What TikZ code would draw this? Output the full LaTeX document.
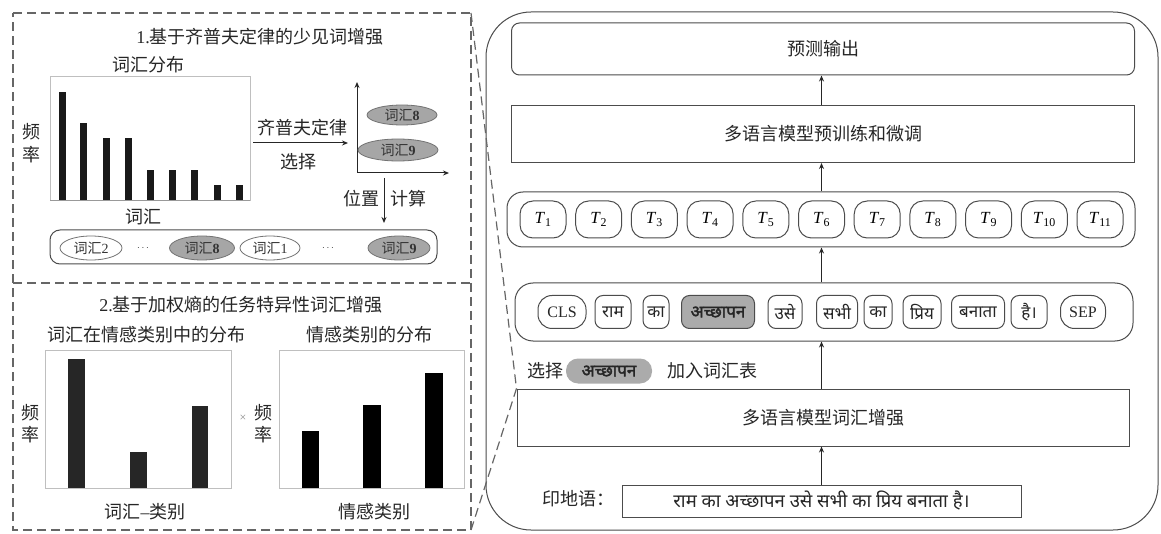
\documentclass[tikz,border=0pt]{standalone}
\usepackage{fontspec}
\setmainfont{Liberation Serif}
\newfontfamily\cjk{Noto Sans CJK SC}
\newfontfamily\hindi[Script=Devanagari]{Noto Sans}
\newfontfamily\hindiB[Script=Devanagari,FakeBold=2]{Noto Sans}
\usetikzlibrary{arrows.meta,shapes.geometric}
\newcommand{\zhf}{\cjk\fontsize{18}{20}\selectfont}
\newcommand{\zhs}{\cjk\fontsize{14}{16}\selectfont}
\newcommand{\hif}{\hindi\fontsize{17}{19}\selectfont}
\newcommand{\hifb}{\hindiB\fontsize{17}{19}\selectfont}
\newcommand{\hib}{\hindi\fontsize{18.5}{20}\selectfont}
\begin{document}
\begin{tikzpicture}[x=1pt,y=-1pt,
  ln/.style={draw=black!70,line width=1pt},
  thin/.style={draw=black!25,line width=0.8pt},
  dsh/.style={draw=black!60,line width=1.2pt,dash pattern=on 9pt off 5pt},
  arr/.style={draw=black!85,line width=1pt,-{Stealth[length=6pt,width=5pt]}},
  zh/.style={font=\zhf,text=black!85,inner sep=0pt},
  tok/.style={ln,rounded corners=8pt,minimum height=33pt,inner sep=1pt,font=\hif,text=black!85},
  tnode/.style={ln,rounded corners=13pt,minimum width=46pt,minimum height=37pt,inner sep=0pt,font=\fontsize{17}{17}\selectfont},
  ell/.style={ellipse,draw=black!55,line width=0.8pt,minimum height=22pt,inner sep=0pt,font=\zhs,text=black!80},
  gell/.style={ell,fill=black!35},
  bar/.style={fill=black!90}
]
\useasboundingbox (0,0) rectangle (1161,534);
\fill[white] (0,0) rectangle (1161,534);

% ---------------- right panel ----------------
\node[ln,rounded corners=45pt,minimum width=672pt,minimum height=518pt] (outer) at (822,271) {};
\node[ln,rounded corners=8pt,minimum width=623pt,minimum height=52pt,zh] (out) at (823,49) {预测输出};
\node[ln,minimum width=623pt,minimum height=57pt,zh] (ft) at (823,134) {多语言模型预训练和微调};
\node[ln,rounded corners=16pt,minimum width=628pt,minimum height=55pt] (tbox) at (821,219.5) {};
\foreach \i in {1,...,11}
  \node[tnode] (t\i) at ({543+55.7*(\i-1)},219.5) {\textit{T}\textsubscript{\i}};
\node[ln,rounded corners=18pt,minimum width=618pt,minimum height=58pt] (hbox) at (824,312) {};
\node[tok,rounded corners=14pt,minimum width=48pt,font=\rmfamily\fontsize{16}{16}\selectfont] (cls) at (562,312) {CLS};
\node[tok,minimum width=36pt] (ram) at (613,312) {राम};
\node[tok,minimum width=26pt] (kaa) at (656,312) {का};
\node[tok,minimum width=73pt,fill=black!33,font=\hifb] (acch) at (718,312) {अच्छापन};
\node[tok,minimum width=34pt] (use) at (785,312) {उसे};
\node[tok,minimum width=41pt] (sabhi) at (837,312) {सभी};
\node[tok,minimum width=28pt] (kab) at (878,312) {का};
\node[tok,minimum width=38pt] (priy) at (922,312) {प्रिय};
\node[tok,minimum width=53pt] (banata) at (978,312) {बनाता};
\node[tok,minimum width=36pt] (hai) at (1029,312) {है।};
\node[tok,rounded corners=14pt,minimum width=45pt,font=\rmfamily\fontsize{16}{16}\selectfont] (sep) at (1083,312) {SEP};

\node[zh] (sel) at (545,371) {选择};
\node[fill=black!33,rounded corners=12pt,minimum width=86pt,minimum height=25pt,inner sep=0pt,font=\hifb,text=black!85] (pill) at (609,371) {अच्छापन};
\node[zh] (add) at (712,371) {加入词汇表};

\node[ln,minimum width=612pt,minimum height=57pt,zh] (voc) at (823,417.5) {多语言模型词汇增强};
\node[zh] (hin) at (578,499) {印地语：};
\node[ln,minimum width=399pt,minimum height=32pt,font=\hib,text=black!85] (sent) at (821.5,501) {राम का अच्छापन उसे सभी का प्रिय बनाता है।};

\draw[arr] (sent.north) -- (sent.north |- voc.south);
\draw[arr] (sent.north |- voc.north) -- (sent.north |- hbox.south);
\draw[arr] (sent.north |- hbox.north) -- (sent.north |- tbox.south);
\draw[arr] (sent.north |- tbox.north) -- (sent.north |- ft.south);
\draw[arr] (sent.north |- ft.north) -- (sent.north |- out.south);

% ---------------- left panel frame ----------------
\coordinate (ltl) at (13,13);
\coordinate (ltr) at (471,13);
\coordinate (lbr) at (471,530);
\coordinate (lbl) at (13,530);
\draw[dsh] (ltl) -- (ltr) -- (lbr) -- (lbl) -- cycle;
\draw[dsh] (13,283) -- (471,283);
\draw[dsh] (ltr) -- (voc.north west);
\draw[dsh] (lbr) -- (voc.north west);

% ---------------- panel 1 ----------------
\node[zh] (p1t) at (260,37) {{\rmfamily 1.}基于齐普夫定律的少见词增强};
\node[zh] (p1d) at (148,65) {词汇分布};
\draw[thin] (50,76) rectangle (250,200);
\foreach \x/\t in {62/92,83/123,106/138,128/138,150/170,172/170,194/170,217/185,239/185}
  \fill[bar] (\x-3.5,\t) rectangle (\x+3.5,200);
\draw[draw=black!40,line width=0.8pt] (50,200) -- (250,200);
\node[zh] (pin1) at (32,132) {频};
\node[zh] (lv1) at (32,155) {率};
\node[zh] (cx1) at (143,217) {词汇};
\coordinate (za) at (253,143);
\coordinate (zb) at (348,143);
\draw[arr] (za) -- (zb);
\node[zh] (zipf) at (302,128) {齐普夫定律};
\node[zh] (xz) at (298,162) {选择};
\coordinate (org) at (357,173);
\coordinate (yax) at (357,82);
\coordinate (xax) at (449,173);
\draw[arr] (org) -- (yax);
\draw[arr] (org) -- (xax);
\node[gell,minimum width=70pt,minimum height=20pt] (e8) at (402,115) {词汇\textbf{\rmfamily 8}};
\node[gell,minimum width=80pt] (e9) at (398,150) {词汇\textbf{\rmfamily 9}};
\coordinate (da) at (384,178);
\coordinate (db) at (384,223);
\draw[arr] (da) -- (db);
\node[zh] (wz) at (361,199) {位置};
\node[zh] (js) at (408,199) {计算};
\node[ln,rounded corners=10pt,minimum width=387pt,minimum height=34pt] (seq) at (243.5,247) {};
\node[ell,minimum width=62pt,minimum height=24pt] (s2) at (91,248) {词汇{\rmfamily 2}};
\node[inner sep=0pt,text=black!80] (d1) at (143,248) {$\cdots$};
\node[gell,minimum width=65pt,minimum height=24pt] (s8) at (202,248) {词汇\textbf{\rmfamily 8}};
\node[ell,minimum width=60pt,minimum height=24pt] (s1) at (270,248) {词汇{\rmfamily 1}};
\node[inner sep=0pt,text=black!80] (d2) at (328,248) {$\cdots$};
\node[gell,minimum width=62pt,minimum height=24pt] (s9) at (399,248) {词汇\textbf{\rmfamily 9}};

% ---------------- panel 2 ----------------
\node[zh] (p2t) at (241,305) {{\rmfamily 2.}基于加权熵的任务特异性词汇增强};
\node[zh] (c1t) at (146,335) {词汇在情感类别中的分布};
\node[zh] (c2t) at (369,335) {情感类别的分布};
\draw[thin] (45,350) rectangle (231,488);
\fill[black!85] (68,359) rectangle (85,488);
\fill[black!85] (130,452) rectangle (147,488);
\fill[black!85] (192,406) rectangle (208,488);
\node[zh] (pin2) at (30,413) {频};
\node[zh] (lv2) at (30,435) {率};
\node[inner sep=0pt,text=black!45,font=\fontsize{12}{12}\selectfont] (times) at (243,418) {×};
\node[zh] (pin3) at (263,413) {频};
\node[zh] (lv3) at (263,435) {率};
\draw[thin] (279,350) rectangle (464,488);
\fill[black] (302,431) rectangle (319,488);
\fill[black] (363,405) rectangle (381,488);
\fill[black] (425,373) rectangle (443,488);
\node[zh] (c1x) at (145,512) {词汇{\rmfamily –}类别};
\node[zh] (c2x) at (374,512) {情感类别};
\end{tikzpicture}
\end{document}
